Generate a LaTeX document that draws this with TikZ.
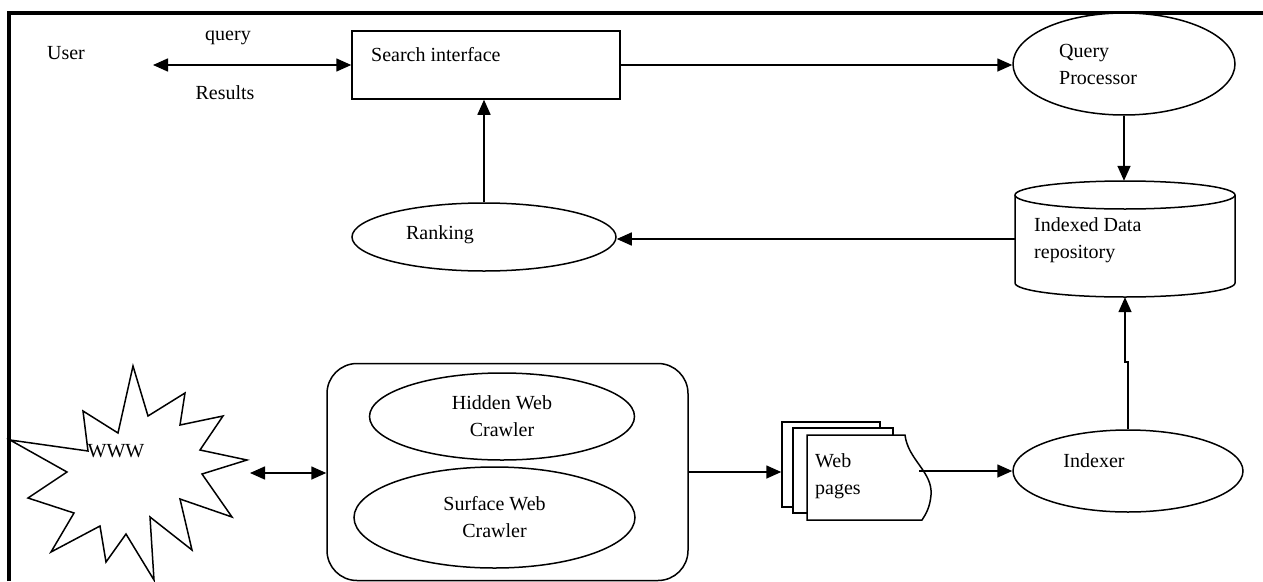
\documentclass[tikz,border=0pt]{standalone}
\usepackage{fontspec}
\setmainfont{Liberation Serif}
\usetikzlibrary{arrows.meta,shapes.geometric}
\tikzset{
  txt/.style={font=\fontsize{20}{27}\selectfont, inner sep=0pt},
  shp/.style={draw, line width=1.5pt, fill=white},
  box/.style={shp, rectangle, inner sep=0pt},
  ell/.style={shp, ellipse, inner sep=0pt, font=\fontsize{20}{27}\selectfont},
  arr/.style={line width=1.6pt, -{Triangle[length=15pt,width=13pt]}},
  darr/.style={line width=1.6pt, {Triangle[length=15pt,width=13pt]}-{Triangle[length=15pt,width=13pt]}},
  frame/.style={line width=4pt}
}
\begin{document}
\begin{tikzpicture}[x=1pt,y=1pt]
\useasboundingbox (0,0) rectangle (1263,-581);
% outer frame
\draw[frame] (9,-581) -- (9,-13) -- (1263,-13);

% user / search interface
\node[txt] (user) at (66,-53) {User};
\coordinate (userend) at (153,-65);
\node[box, minimum width=268pt, minimum height=68pt] (search) at (486,-65) {};
\node[txt, anchor=west] (searchlbl) at (371,-55) {Search interface};
\node[txt] (query) at (228,-38) {query};
\node[txt] (results) at (225,-93) {Results};
\draw[darr] (userend) -- (search.west);

% query processor
\node[ell, minimum width=222pt, minimum height=102pt] (qp) at (1124,-64) {};
\node[txt, align=left, anchor=west] (qplbl) at (1059,-64) {Query\\Processor};
\draw[arr] (search.east) -- (search.east -| qp.west);

% repository (cylinder)
\node[inner sep=0pt, minimum width=220pt, minimum height=116pt] (repo) at (1125,-239) {};
\draw[shp] (1015,-195) -- (1015,-283) arc[start angle=180, end angle=360, x radius=110, y radius=14] -- (1235,-195);
\draw[shp] (1125,-195) ellipse[x radius=110, y radius=14];
\node[txt, align=left, anchor=west] (repolbl) at (1034,-240) {Indexed Data\\repository};
\draw[arr] (qp.south) -- (qp.south |- repo.north);

% ranking
\node[ell, minimum width=264pt, minimum height=68pt] (ranking) at (484,-237) {};
\node[txt] (ranklbl) at (440,-235) {Ranking};
\draw[arr] (repo.west) -- (repo.west -| ranking.east);
\draw[arr] (ranking.north) -- (ranking.north |- search.south);

% indexer
\node[ell, minimum width=230pt, minimum height=82pt] (indexer) at (1128,-471) {};
\node[txt] (indexlbl) at (1094,-461) {Indexer};
\draw[arr] (indexer.north) -- ++(0,67) -| (repo.south);

% crawler group
\node[draw, line width=1.5pt, rounded corners=30pt, minimum width=361pt, minimum height=217pt] (crawler) at (507.5,-472) {};
\node[ell, minimum width=265pt, minimum height=87pt, align=center] (hidden) at (502,-416.5) {Hidden Web\\Crawler};
\node[ell, minimum width=281pt, minimum height=101pt, align=center] (surface) at (494.5,-517.5) {Surface Web\\Crawler};

% WWW star
\draw[line width=1.5pt, fill=white, line join=miter] (133,-366) -- (148,-416) -- (185,-393) -- (180,-425) -- (223,-416) -- (200,-450) -- (247,-460) -- (202,-474) -- (232,-517) -- (180,-499) -- (192,-550) -- (150,-517) -- (154,-580) -- (126,-534) -- (106,-562) -- (100,-526) -- (51,-552) -- (74,-513) -- (28,-498) -- (67,-472) -- (10,-440) -- (88,-451) -- (83,-411) -- (118,-433) -- cycle;
\node[txt] (www) at (116,-451) {WWW};
\coordinate (wwwR) at (250,-473);
\draw[darr] (wwwR) -- (wwwR -| crawler.west);

% web pages
\node[shp, inner sep=0pt, minimum width=98pt, minimum height=85pt] (pages) at (831,-464.5) {};
\draw[shp] (793,-428) rectangle (893,-513);
\draw[shp] (807,-435) -- (905,-435) .. controls (908,-460) and (933,-472) .. (931,-495) .. controls (930,-507) and (926,-514) .. (922,-520) -- (807,-520) -- cycle;
\node[txt, align=left, anchor=west] (pageslbl) at (815,-476) {Web\\pages};
\draw[arr] (crawler.east) -- (crawler.east -| pages.west);
\coordinate (pagesout) at (919,-471);
\draw[arr] (pagesout) -- (indexer.west);
\end{tikzpicture}
\end{document}
